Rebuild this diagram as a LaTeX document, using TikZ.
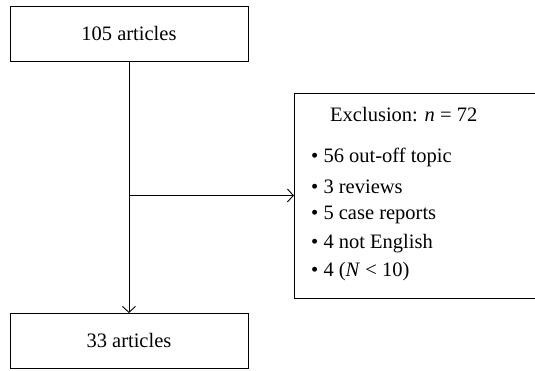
\documentclass[tikz,border=0pt]{standalone}
\usepackage{fontspec}
\setmainfont{Liberation Serif}
\usetikzlibrary{arrows.meta}
\begin{document}
\begin{tikzpicture}[x=1pt,y=-1pt,
  font=\fontsize{20.5}{24}\selectfont,
  box/.style={draw, line width=0.9pt, inner sep=0pt, anchor=north west},
  txt/.style={inner sep=0pt, anchor=west},
  conn/.style={line width=0.9pt, -{Straight Barb[length=6pt,width=13pt,line width=0.9pt]}}]
\useasboundingbox (0,0) rectangle (535,370);
\node[box, minimum width=238pt, minimum height=55pt] (top) at (9.5,6) {105 articles};
\node[box, minimum width=238pt, minimum height=55pt] (bot) at (9.5,313) {33 articles};
\node[box, minimum width=252pt, minimum height=205pt] (excl) at (294,92.5) {};
\node[txt] (t0) at (330,115) {Exclusion: \textit{n} = 72};
\node[txt] (t1) at (311,157.5) {• 56 out-off topic};
\node[txt] (t2) at (311,186.5) {• 3 reviews};
\node[txt] (t3) at (311,215) {• 5 case reports};
\node[txt] (t4) at (311,243.5) {• 4 not English};
\node[txt] (t5) at (311,272) {• 4 (\textit{N} < 10)};
\draw[conn] (top.south) -- (bot.north);
\coordinate (j) at (top.south |- excl.west);
\draw[conn] (j) -- (excl.west);
\end{tikzpicture}
\end{document}
